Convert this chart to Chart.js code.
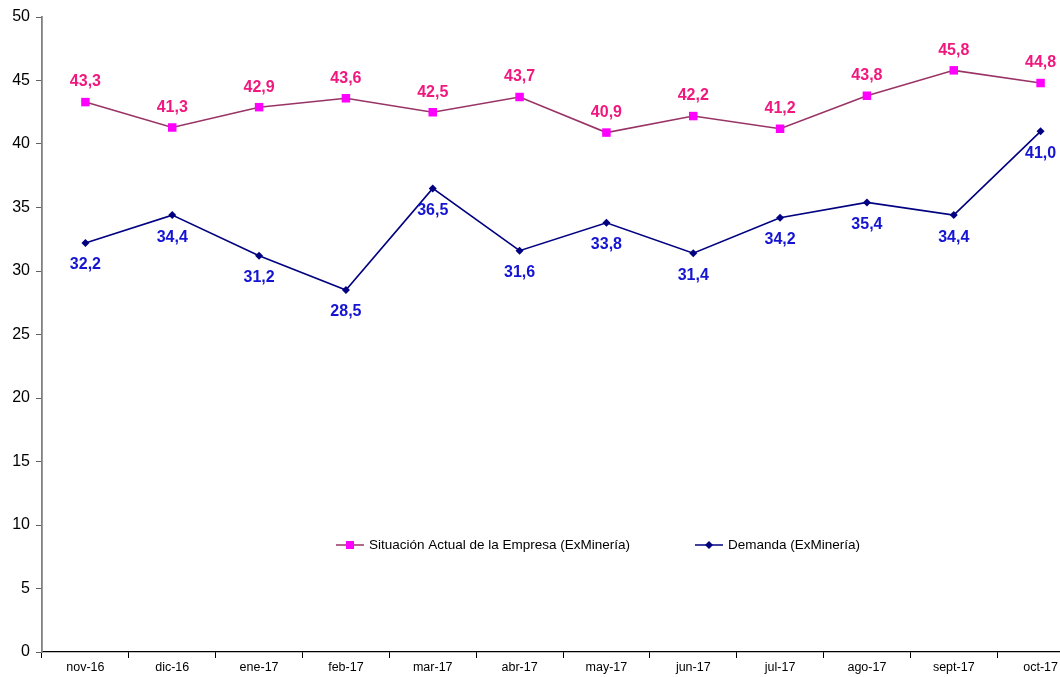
<!DOCTYPE html>
<html>
<head>
<meta charset="utf-8">
<script src="https://cdn.jsdelivr.net/npm/chart.js@4/dist/chart.umd.min.js"></script>
<style>
html, body { margin: 0; padding: 0; background: #fff; overflow: hidden; }
#wrap { width: 1060px; height: 677px; overflow: hidden; }
</style>
</head>
<body>
<div id="wrap"><canvas id="c" width="1090" height="677"></canvas></div>
<script>
// datos
var meses = ['nov-16', 'dic-16', 'ene-17', 'feb-17', 'mar-17', 'abr-17', 'may-17', 'jun-17', 'jul-17', 'ago-17', 'sept-17', 'oct-17'];
var situacionActual = [43.3, 41.3, 42.9, 43.6, 42.5, 43.7, 40.9, 42.2, 41.2, 43.8, 45.8, 44.8];
var demanda = [32.2, 34.4, 31.2, 28.5, 36.5, 31.6, 33.8, 31.4, 34.2, 35.4, 34.4, 41.0];
var nombres = ['Situación Actual de la Empresa (ExMinería)', 'Demanda (ExMinería)'];

var FONT = '"Liberation Sans", Arial, sans-serif';

// etiquetas de valores
var etiquetas = {
    id: 'etiquetas',
    afterDatasetsDraw: function (chart) {
        var ctx = chart.ctx;
        ctx.save();
        ctx.font = 'bold 16px ' + FONT;
        ctx.textAlign = 'center';
        ctx.textBaseline = 'middle';
        chart.data.datasets.forEach(function (ds, i) {
            var meta = chart.getDatasetMeta(i);
            ctx.fillStyle = ds.labelColor;
            meta.data.forEach(function (pt, j) {
                var txt = ds.data[j].toFixed(1).replace('.', ',');
                ctx.fillText(txt, pt.x, pt.y + ds.labelOffset);
            });
        });
        ctx.restore();
    }
};

// leyenda dentro del grafico
var leyenda = {
    id: 'leyenda',
    afterDraw: function (chart) {
        var ctx = chart.ctx;
        var pos = [336, 695], y = 545;
        ctx.save();
        ctx.font = '13.5px ' + FONT;
        ctx.textBaseline = 'middle';
        chart.data.datasets.forEach(function (ds, i) {
            var x = pos[i];
            ctx.strokeStyle = ds.borderColor;
            ctx.lineWidth = 1.5;
            ctx.beginPath();
            ctx.moveTo(x, y);
            ctx.lineTo(x + 28, y);
            ctx.stroke();
            ctx.fillStyle = ds.pointBackgroundColor;
            if (ds.pointStyle == 'rect') {
                ctx.fillRect(x + 10, y - 4, 8, 8);
            } else {
                ctx.beginPath();
                ctx.moveTo(x + 14, y - 4);
                ctx.lineTo(x + 18, y);
                ctx.lineTo(x + 14, y + 4);
                ctx.lineTo(x + 10, y);
                ctx.closePath();
                ctx.fill();
            }
            ctx.fillStyle = '#000';
            ctx.fillText(ds.label, x + 33, y);
        });
        ctx.restore();
    }
};

new Chart(document.getElementById('c'), {
    type: 'line',
    data: {
        labels: meses,
        datasets: [{
            label: nombres[0],
            data: situacionActual,
            borderColor: '#993366',
            borderWidth: 1.6,
            pointStyle: 'rect',
            pointRadius: 6,
            pointBackgroundColor: '#ff00ff',
            pointBorderColor: '#ff00ff',
            pointBorderWidth: 0,
            labelColor: '#f0187e',
            labelOffset: -20,
            tension: 0
        }, {
            label: nombres[1],
            data: demanda,
            borderColor: '#000080',
            borderWidth: 1.6,
            pointStyle: 'rectRot',
            pointRadius: 4,
            pointBackgroundColor: '#000080',
            pointBorderColor: '#000080',
            pointBorderWidth: 0,
            labelColor: '#1414d2',
            labelOffset: 22,
            tension: 0
        }]
    },
    options: {
        responsive: false,
        animation: false,
        devicePixelRatio: 1,
        layout: { padding: { top: 17, right: 0, left: 0, bottom: 0 } },
        plugins: {
            legend: { display: false },
            tooltip: { enabled: false }
        },
        scales: {
            x: {
                offset: true,
                grid: { offset: true, drawOnChartArea: false, drawTicks: true, tickLength: 6, color: '#000' },
                border: { color: '#000', width: 1.2 },
                ticks: { color: '#000', font: { family: FONT, size: 12.5 }, padding: 2, maxRotation: 0, autoSkip: false },
                afterFit: function (s) { s.height = 25; }
            },
            y: {
                min: 0,
                max: 50,
                ticks: { stepSize: 5, color: '#000', font: { family: FONT, size: 16 }, padding: 6 },
                grid: { drawOnChartArea: false, drawTicks: true, tickLength: 6, color: '#606060' },
                border: { color: '#808080', width: 1.8 },
                afterFit: function (s) { s.width = 42; }
            }
        }
    },
    plugins: [etiquetas, leyenda]
});
</script>
</body>
</html>
